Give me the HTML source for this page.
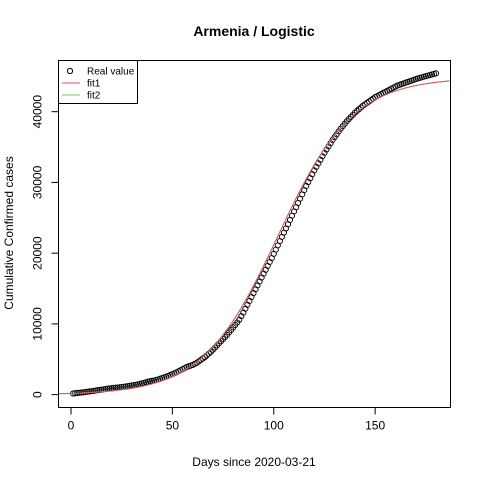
<!DOCTYPE html>
<html><head><meta charset="utf-8"><style>
body{margin:0;background:#fff}
svg{display:block;font-family:"Liberation Sans",Arial,sans-serif}
</style></head><body>
<svg id="chart" width="480" height="480" viewBox="0 0 480 480" xmlns="http://www.w3.org/2000/svg">
<rect width="480" height="480" fill="#fff"/>
<text x="254" y="36" text-anchor="middle" font-size="14" font-weight="bold">Armenia / Logistic</text>
<text x="254" y="466" text-anchor="middle" font-size="12">Days since 2020-03-21</text>
<text x="0" y="0" transform="translate(13,233) rotate(-90)" text-anchor="middle" font-size="12">Cumulative Confirmed cases</text>
<g id="plot"></g>
<rect x="58.5" y="60.5" width="392" height="347" fill="none" stroke="#000"/>
<g id="legend">
<rect x="58.5" y="60.5" width="79" height="43" fill="#fff" stroke="#000"/>
<circle cx="70" cy="71" r="2.6" fill="none" stroke="#000"/>
<text x="87" y="74.5" font-size="10">Real value</text>
<line x1="62" y1="83" x2="80" y2="83" stroke="#DF536B"/>
<text x="87" y="86.5" font-size="10">fit1</text>
<line x1="62" y1="95" x2="80" y2="95" stroke="#61D04F"/>
<text x="87" y="98.5" font-size="10">fit2</text>
</g>
</svg>
<script>
const xTicks=[0,50,100,150];
const yTicks=[0,10000,20000,30000,40000];
const cases=[160,190,235,265,290,330,370,410,450,480,
520,570,630,660,700,740,800,850,880,920,
950,990,1010,1040,1070,1110,1160,1200,1250,1300,
1340,1400,1450,1520,1600,1680,1750,1830,1900,1950,
2000,2080,2150,2250,2350,2450,2550,2650,2780,2900,
3020,3150,3300,3450,3600,3750,3900,4000,4100,4200,
4350,4500,4700,4900,5100,5300,5550,5800,6050,6350,
6650,6950,7250,7550,7850,8150,8450,8800,9150,9500,
9850,10200,10600,11100,11600,12150,12700,13250,13800,14350,
14900,15450,16000,16550,17100,17650,18200,18750,19300,19900,
20500,21100,21700,22300,22900,23500,24100,24700,25300,25900,
26500,27100,27700,28300,28900,29500,30050,30600,31150,31700,
32200,32700,33200,33700,34200,34650,35100,35550,36000,36400,
36800,37200,37600,37950,38300,38650,38950,39250,39550,39850,
40100,40350,40600,40850,41050,41250,41450,41650,41850,42050,
42200,42350,42500,42650,42800,42950,43100,43250,43400,43550,
43700,43800,43900,44000,44100,44200,44300,44400,44500,44600,
44700,44780,44860,44940,45020,45100,45180,45260,45340,45420];
const fit1Params=[44800,0.054,102];
const fit2Params=[44800,0.054,102];
const NS="http://www.w3.org/2000/svg";
const xMin=1-0.04*179, xMax=cases.length+0.04*179;
const yMin=-0.04*45420, yMax=45420*1.04;
const L=58.5,R=450.5,T=60.5,B=407.5;
const sx=d=>L+(d-xMin)/(xMax-xMin)*(R-L);
const sy=v=>B-(v-yMin)/(yMax-yMin)*(B-T);
const svg=document.getElementById('chart');
const plot=document.getElementById('plot');
function mk(tag,attrs,parent){const e=document.createElementNS(NS,tag);for(const k in attrs)e.setAttribute(k,attrs[k]);(parent||plot).appendChild(e);return e;}
xTicks.forEach(t=>{
  const g=mk('g',{});
  
  
  mk('line',{x1:sx(t),x2:sx(t),y1:B,y2:B+7,stroke:'#000'},g);
  const tx=mk('text',{x:sx(t),y:B+22,'text-anchor':'middle','font-size':12},g);tx.textContent=t;
});
yTicks.forEach(t=>{
  const g=mk('g',{});
  
  
  mk('line',{x1:L-7,x2:L,y1:sy(t),y2:sy(t),stroke:'#000'},g);
  const tx=mk('text',{x:0,y:0,transform:`translate(${L-17},${sy(t)}) rotate(-90)`,'text-anchor':'middle','font-size':12},g);tx.textContent=t;
});
const logi=(p,t)=>p[0]/(1+Math.exp(-p[1]*(t-p[2])));
function fitPath(p){let d='';for(let t=xMin;t<=xMax;t+=0.5){d+=(d?'L':'M')+sx(t).toFixed(2)+','+sy(logi(p,t)).toFixed(2);}return d;}
const pts=mk('g',{});


cases.forEach((v,i)=>{
  const c=mk('circle',{cx:sx(i+1),cy:sy(v),r:2.6,fill:'none',stroke:'#000','stroke-width':0.9},pts);
  
  
});
const f2=mk('path',{d:fitPath(fit2Params),fill:'none',stroke:'#61D04F','stroke-width':1});


const f1=mk('path',{d:fitPath(fit1Params),fill:'none',stroke:'#DF536B','stroke-width':1});


</script>
</body></html>
